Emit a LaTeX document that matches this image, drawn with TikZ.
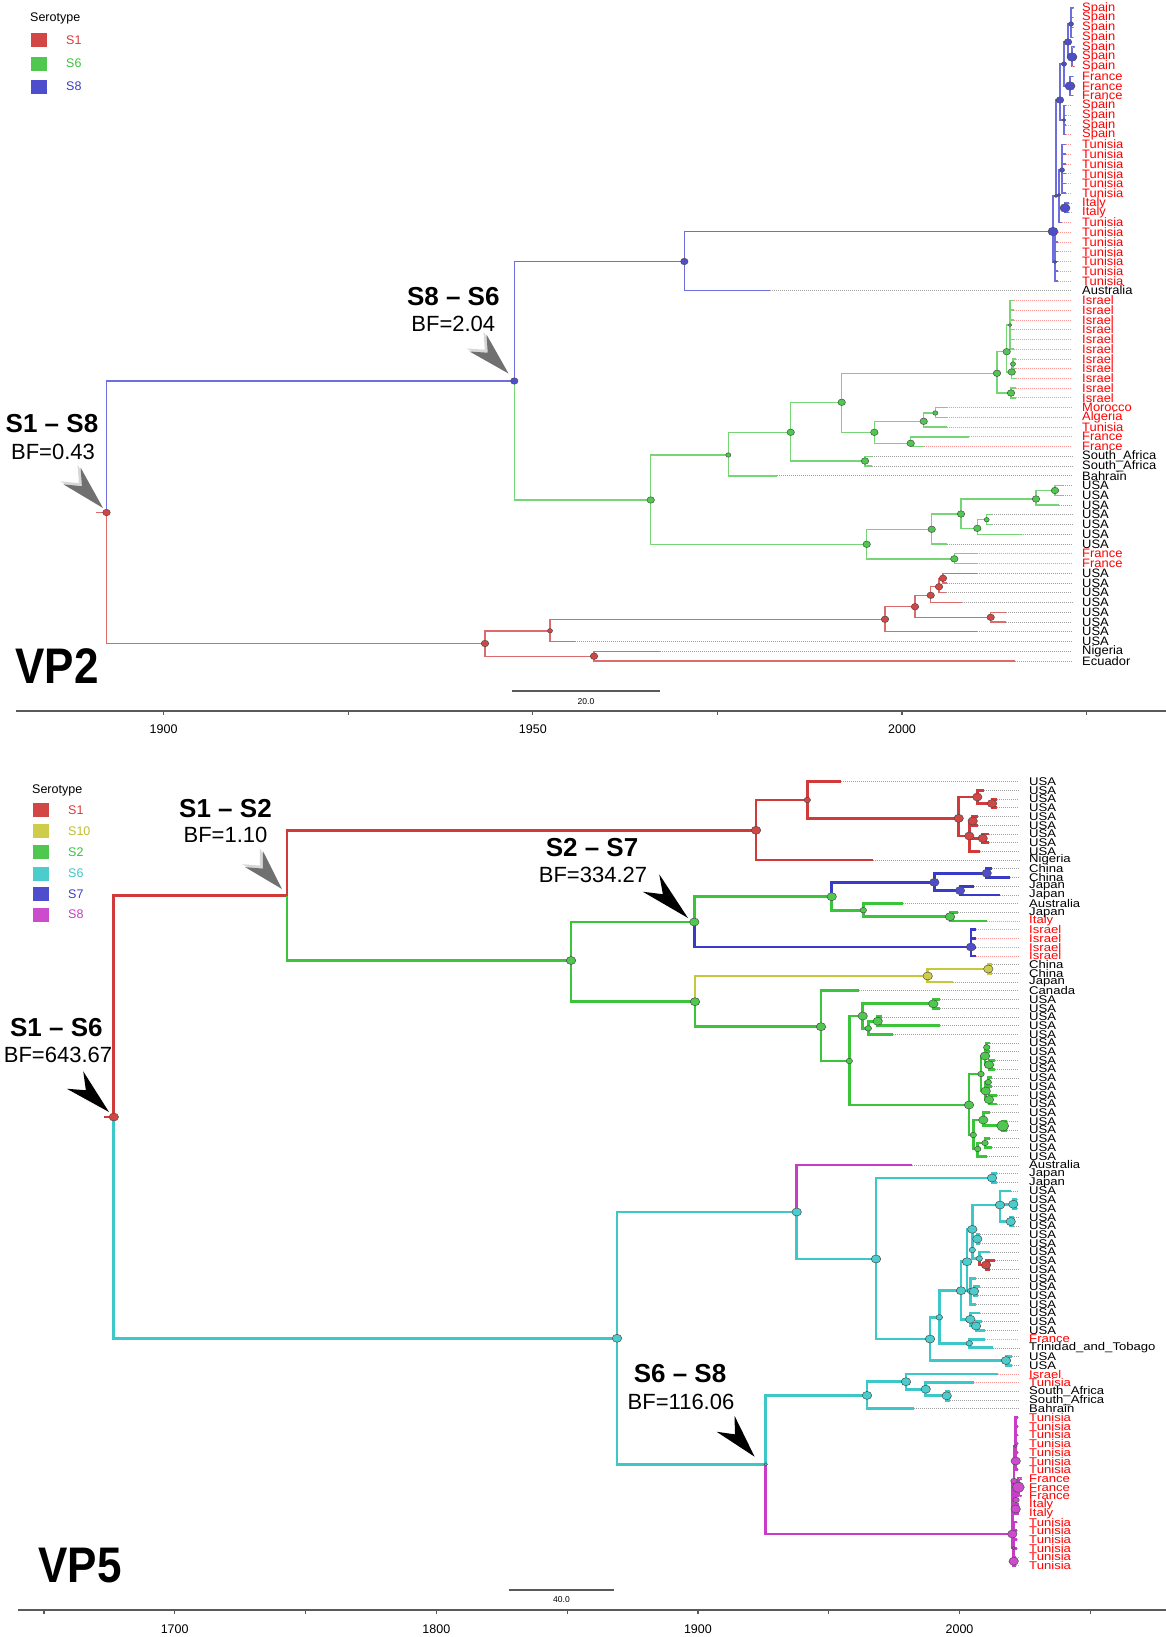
\documentclass[tikz,border=0pt]{standalone}
\usepackage{fontspec}
\setmainfont{Liberation Sans}
\usetikzlibrary{calc,shapes.geometric}
\definecolor{lnBt}{RGB}{110,110,220}
\definecolor{lnGt}{RGB}{118,214,118}
\definecolor{lnRt}{RGB}{220,108,108}
\definecolor{lnR}{RGB}{208,58,58}
\definecolor{lnG}{RGB}{58,196,58}
\definecolor{lnC}{RGB}{60,200,200}
\definecolor{lnB}{RGB}{58,58,200}
\definecolor{lnY}{RGB}{200,200,60}
\definecolor{lnM}{RGB}{200,60,200}
\definecolor{fiR}{RGB}{210,70,70}
\definecolor{fiG}{RGB}{80,200,80}
\definecolor{fiB}{RGB}{78,78,205}
\definecolor{fiC}{RGB}{75,205,205}
\definecolor{fiY}{RGB}{205,205,75}
\definecolor{fiM}{RGB}{205,75,205}
\definecolor{labred}{RGB}{255,0,0}
\definecolor{dotgray}{RGB}{160,160,160}
\definecolor{dotpink}{RGB}{250,150,150}
\definecolor{axisgray}{RGB}{90,90,90}
\definecolor{arrgray}{RGB}{112,112,112}
\definecolor{arrlight}{RGB}{215,215,215}
\definecolor{tS1}{RGB}{215,60,60}
\definecolor{tS6}{RGB}{60,195,60}
\definecolor{tS8}{RGB}{60,60,205}
\definecolor{tS10}{RGB}{190,190,50}
\definecolor{tCy}{RGB}{60,200,200}
\definecolor{tMa}{RGB}{200,60,200}

\newcommand\yT[1]{8+(#1-1)*9.746}
\newcommand\yB[1]{781.7+(#1-1)*8.71}
\newcommand\nd[5]{\coordinate (#1) at (#2,#3);\draw[#5] (#4) |- (#1);}
\newcommand\tT[6]{\coordinate (T#2) at (#3,{\yT{#2}});
 \node[labT,lab#6] (TL#2) at (1082,{\yT{#2}}) {#4};
 \draw[#5] (#1) |- (T#2);
 \draw[dotT#6] (T#2) -- (TL#2.west);}
\newcommand\tB[6]{\coordinate (B#2) at (#3,{\yB{#2}});
 \node[labB,lab#6] (BL#2) at (1029,{\yB{#2}}) {#4};
 \draw[#5] (#1) |- (B#2);
 \draw[dotB#6] (B#2) -- (BL#2.west);}
\newcommand\dt[3]{\node[#1,#3] (d#2) at (#2) {};}
\newcommand\pointer[3]{\fill[#1] (#3) -- ($(#2)!12pt!90:(#3)$) -- ($(#2)!0.32!(#3)$) -- ($(#2)!12pt!-90:(#3)$) -- cycle;}

\begin{document}
\begin{tikzpicture}[x=1pt,y=-1pt,
 bT/.style={draw=lnBt,line width=1.4pt},
 gT/.style={draw=lnGt,line width=1.4pt},
 rT/.style={draw=lnRt,line width=1.4pt},
 rB/.style={draw=lnR,line width=2.8pt},
 gB/.style={draw=lnG,line width=2.8pt},
 cB/.style={draw=lnC,line width=2.8pt},
 bB/.style={draw=lnB,line width=2.8pt},
 yB/.style={draw=lnY,line width=2.8pt},
 mB/.style={draw=lnM,line width=2.8pt},
 labT/.style={anchor=west,inner sep=0pt,font=\fontsize{12.2}{12}\selectfont,xscale=1.06},
 labB/.style={anchor=west,inner sep=0pt,font=\fontsize{11.2}{11}\selectfont,xscale=1.17},
 labr/.style={text=labred},
 labk/.style={text=black},
 dotTr/.style={draw=dotpink,line width=0.7pt,dash pattern=on 1pt off 1pt,shorten >=10pt},
 dotTk/.style={draw=dotgray,line width=0.7pt,dash pattern=on 1pt off 1pt,shorten >=10pt},
 dotBr/.style={draw=dotpink,line width=0.7pt,dash pattern=on 1pt off 1pt,shorten >=10pt},
 dotBk/.style={draw=dotgray,line width=0.7pt,dash pattern=on 1pt off 1pt,shorten >=10pt},
 ndot/.style={ellipse,draw=black!70,line width=0.5pt,inner sep=0pt},
 DR/.style={ndot,fill=fiR}, DG/.style={ndot,fill=fiG}, DB/.style={ndot,fill=fiB},
 DC/.style={ndot,fill=fiC}, DY/.style={ndot,fill=fiY}, DM/.style={ndot,fill=fiM},
 sX/.style={minimum width=3.5pt,minimum height=3pt},
 sT1/.style={minimum width=5pt,minimum height=4.5pt},
 sT2/.style={minimum width=7.5pt,minimum height=6.5pt},
 sT3/.style={minimum width=10pt,minimum height=8.5pt},
 sB1/.style={minimum width=6.5pt,minimum height=5.5pt},
 sB2/.style={minimum width=9.5pt,minimum height=8pt},
 sB3/.style={minimum width=12pt,minimum height=10pt},
 ann/.style={inner sep=0pt,font=\fontsize{26}{26}\selectfont\bfseries},
 bf/.style={inner sep=0pt,font=\fontsize{22}{22}\selectfont},
 vp/.style={inner sep=0pt,font=\fontsize{50}{50}\selectfont\bfseries,xscale=0.88},
 legh/.style={anchor=west,inner sep=0pt,font=\fontsize{12.5}{12}\selectfont},
 legl/.style={anchor=west,inner sep=0pt,font=\fontsize{12.5}{12}\selectfont},
 lsq/.style={minimum width=17pt,minimum height=15pt,inner sep=0pt,draw=white,line width=0.6pt},
 axisline/.style={draw=axisgray,line width=1.8pt},
 tickl/.style={inner sep=0pt,font=\fontsize{12.5}{12}\selectfont},
 sbar/.style={draw=axisgray,line width=1.8pt},
 sbl/.style={inner sep=0pt,font=\fontsize{8.5}{8}\selectfont}]
\useasboundingbox (0,0) rectangle (1166,1637);
\fill[white] (0,0) rectangle (1166,1637);

% ================= TOP TREE (VP2) =================
\coordinate (TR) at (106.5,512.5);
\coordinate (TRs) at (96,512.5);
\draw[rT] (TRs) -- (TR);
\nd{TS86}{514.3}{381}{TR}{bT}
\nd{TB1}{684.3}{261.5}{TS86}{bT}
\nd{TA}{1053}{231.5}{TB1}{bT}
\tT{TB1}{30}{770}{Australia}{bT}{k}
\nd{TU}{1056}{196}{TA}{bT}
\nd{TL}{1055}{262}{TA}{bT}
\nd{TS1}{1060}{100}{TU}{bT}
\nd{TS2}{1059}{195}{TU}{bT}
\nd{TSp}{1064}{64}{TS1}{bT}
\nd{TSq}{1064}{120}{TS1}{bT}
\nd{TSpain}{1068}{42}{TSp}{bT}
\nd{TFr}{1070}{86}{TSp}{bT}
\nd{TSa}{1071}{24}{TSpain}{bT}
\nd{TSb}{1072}{57}{TSpain}{bT}
\foreach \r in {1,...,4}{\tT{TSa}{\r}{1074}{Spain}{bT}{r}}
\foreach \r in {5,6,7}{\tT{TSb}{\r}{1075}{Spain}{bT}{r}}
\foreach \r in {8,9,10}{\tT{TFr}{\r}{1074}{France}{bT}{r}}
\foreach \r in {11,...,14}{\tT{TSq}{\r}{1066}{Spain}{bT}{r}}
\nd{TTun}{1062}{170}{TS2}{bT}
\nd{TIt}{1065}{208}{TS2}{bT}
\foreach \r in {15,...,20}{\tT{TTun}{\r}{1066}{Tunisia}{bT}{r}}
\foreach \r in {21,22}{\tT{TIt}{\r}{1069}{Italy}{bT}{r}}
\tT{TS2}{23}{1062}{Tunisia}{bT}{r}
\foreach \r in {24,...,29}{\tT{TL}{\r}{1058}{Tunisia}{bT}{r}}
% green
\nd{TG0}{650.7}{500}{TS86}{gT}
\nd{TG1}{728.3}{455}{TG0}{gT}
\nd{TG2}{866.7}{544.3}{TG0}{gT}
\nd{TG3}{790.7}{432.3}{TG1}{gT}
\tT{TG1}{49}{776.7}{Bahrain}{gT}{k}
\nd{TG4}{841.7}{402.3}{TG3}{gT}
\nd{TG5}{865}{461}{TG3}{gT}
\tT{TG5}{47}{871.7}{South\_Africa}{gT}{k}
\tT{TG5}{48}{871.7}{South\_Africa}{gT}{k}
\nd{TG6}{997}{373.3}{TG4}{gT}
\nd{TG7}{874.3}{432.3}{TG4}{gT}
\nd{TG8}{923.7}{421.3}{TG7}{gT}
\nd{TG9}{910.7}{443.3}{TG7}{gT}
\tT{TG9}{45}{969.3}{France}{gT}{r}
\tT{TG9}{46}{924}{France}{gT}{r}
\nd{TG10}{935.3}{413}{TG8}{gT}
\tT{TG10}{42}{946.7}{Morocco}{gT}{r}
\tT{TG10}{43}{946.7}{Algeria}{gT}{r}
\tT{TG8}{44}{946.7}{Tunisia}{gT}{r}
\nd{TG11}{1006.7}{351.7}{TG6}{gT}
\nd{TG12}{1011}{393}{TG6}{gT}
\foreach \r in {40,41}{\tT{TG12}{\r}{1016}{Israel}{gT}{r}}
\nd{TG13}{1011.7}{372}{TG11}{gT}
\nd{TG15}{1013}{364}{TG13}{gT}
\foreach \r in {37,38}{\tT{TG15}{\r}{1016}{Israel}{gT}{r}}
\tT{TG13}{39}{1016}{Israel}{gT}{r}
\nd{TG14}{1010}{325}{TG11}{gT}
\foreach \r in {31,...,36}{\tT{TG14}{\r}{1014}{Israel}{gT}{r}}
\nd{TGa}{931.7}{529.3}{TG2}{gT}
\nd{TGb}{954.3}{558.8}{TG2}{gT}
\foreach \r in {57,58}{\tT{TGb}{\r}{976.7}{France}{gT}{r}}
\nd{TGc}{961}{514}{TGa}{gT}
\tT{TGa}{56}{946.7}{USA}{gT}{k}
\nd{TGd}{1036}{499}{TGc}{gT}
\nd{TGe}{977.3}{528.3}{TGc}{gT}
\nd{TGf}{1055}{490.5}{TGd}{gT}
\foreach \r in {50,51}{\tT{TGf}{\r}{1063}{USA}{gT}{k}}
\tT{TGd}{52}{1059.3}{USA}{gT}{k}
\nd{TGg}{986.7}{519.7}{TGe}{gT}
\foreach \r in {53,54}{\tT{TGg}{\r}{991.7}{USA}{gT}{k}}
\tT{TGe}{55}{1020.7}{USA}{gT}{k}
% red
\nd{TR0}{485}{643.5}{TR}{rT}
\nd{TR3}{550}{630.8}{TR0}{rT}
\nd{TR2}{594}{656.2}{TR0}{rT}
\tT{TR2}{67}{660}{Nigeria}{rT}{k}
\tT{TR2}{68}{1015}{Ecuador}{rT}{k}
\nd{TR1}{885}{619.3}{TR3}{rT}
\tT{TR3}{66}{575}{USA}{rT}{k}
\nd{TR4}{915}{606.7}{TR1}{rT}
\tT{TR1}{65}{976.7}{USA}{rT}{k}
\nd{TR6}{930.7}{595.3}{TR4}{rT}
\nd{TR5}{990.7}{617.3}{TR4}{rT}
\foreach \r in {63,64}{\tT{TR5}{\r}{1006}{USA}{rT}{k}}
\nd{TR7}{939}{586.7}{TR6}{rT}
\tT{TR6}{62}{961.7}{USA}{rT}{k}
\nd{TR8}{943}{578.3}{TR7}{rT}
\tT{TR7}{61}{946}{USA}{rT}{k}
\tT{TR8}{59}{976.7}{USA}{rT}{k}
\tT{TR8}{60}{946.7}{USA}{rT}{k}
% dots top
\dt{DR}{TR}{sT2}
\dt{DB}{TS86}{sT2}\dt{DB}{TB1}{sT2}\dt{DB}{TA}{sT3}\dt{DB}{TU}{sX}
\dt{DB}{TS1}{sT2}\dt{DB}{TSp}{sT1}\dt{DB}{TSpain}{sT2}\dt{DB}{TSa}{sT1}
\dt{DB}{TSb}{sT3}\dt{DB}{TFr}{sT3}\dt{DB}{TSq}{sX}\dt{DB}{TS2}{sX}
\dt{DB}{TTun}{sT1}\dt{DB}{TIt}{sT3}\dt{DB}{TL}{sX}
\dt{DG}{TG0}{sT2}\dt{DG}{TG1}{sT1}\dt{DG}{TG2}{sT2}\dt{DG}{TG3}{sT2}
\dt{DG}{TG4}{sT2}\dt{DG}{TG5}{sT2}\dt{DG}{TG6}{sT2}\dt{DG}{TG7}{sT2}
\dt{DG}{TG8}{sT2}\dt{DG}{TG9}{sT2}\dt{DG}{TG10}{sT1}\dt{DG}{TG11}{sT2}
\dt{DG}{TG12}{sT2}\dt{DG}{TG13}{sT2}\dt{DG}{TG15}{sT1}\dt{DG}{TG14}{sX}
\dt{DG}{TGa}{sT2}\dt{DG}{TGb}{sT2}\dt{DG}{TGc}{sT2}\dt{DG}{TGd}{sT2}
\dt{DG}{TGe}{sT2}\dt{DG}{TGf}{sT2}\dt{DG}{TGg}{sT1}
\dt{DR}{TR0}{sT2}\dt{DR}{TR3}{sT1}\dt{DR}{TR2}{sT2}\dt{DR}{TR1}{sT2}
\dt{DR}{TR4}{sT2}\dt{DR}{TR6}{sT2}\dt{DR}{TR7}{sT2}\dt{DR}{TR8}{sT2}\dt{DR}{TR5}{sT2}

% annotations top
\node[ann] (aS18) at (52,424) {S1 -- S8};
\node[bf] (bS18) at (53,452) {BF=0.43};
\coordinate (p1t) at (72,476); \coordinate (p1h) at (103,508);
\coordinate (p1ts) at (69,473); \coordinate (p1hs) at (100,505);
\pointer{arrlight}{p1ts}{p1hs}
\pointer{arrgray}{p1t}{p1h}
\node[ann] (aS86) at (453.3,297) {S8 -- S6};
\node[bf] (bS86) at (453.3,324) {BF=2.04};
\coordinate (p2t) at (478,343); \coordinate (p2h) at (508.5,373.5);
\coordinate (p2ts) at (475,340); \coordinate (p2hs) at (505.5,370.5);
\pointer{arrlight}{p2ts}{p2hs}
\pointer{arrgray}{p2t}{p2h}
\node[vp] (vp2) at (57,666) {VP2};

% legend top
\node[legh] (lgT) at (30,18) {Serotype};
\node[lsq,fill=fiR] (lqT1) at (39,40) {};
\node[lsq,fill=fiG] (lqT2) at (39,63.5) {};
\node[lsq,fill=fiB] (lqT3) at (39,86.5) {};
\node[legl,text=tS1] (llT1) at (66,40) {S1};
\node[legl,text=tS6] (llT2) at (66,63.5) {S6};
\node[legl,text=tS8] (llT3) at (66,86.5) {S8};

% axis top
\coordinate (axTs) at (16,711); \coordinate (axTe) at (1166,711);
\draw[axisline] (axTs) -- (axTe);
\foreach \k in {0,...,5}{\draw[axisline,line width=1.2pt] ({163.6+\k*184.6},711) -- ++(0,4);}
\node[tickl] (yT1900) at (163.6,729) {1900};
\node[tickl] (yT1950) at (532.8,729) {1950};
\node[tickl] (yT2000) at (902,729) {2000};
\coordinate (sbTs) at (512,691); \coordinate (sbTe) at (660,691);
\draw[sbar] (sbTs) -- (sbTe);
\node[sbl] (sbTl) at (586,702) {20.0};

% ================= BOTTOM TREE (VP5) =================
\coordinate (BR) at (113.8,1117);
\coordinate (BRs) at (104,1117);
\draw[rB] (BRs) -- (BR);
\nd{X1}{287}{895.7}{BR}{rB}
\nd{BC0}{617}{1338.3}{BR}{cB}
\nd{BR0}{756}{830.3}{X1}{rB}
\nd{BG0}{571}{960.5}{X1}{gB}
% red
\nd{BR1}{807.3}{800}{BR0}{rB}
\tB{BR0}{10}{872.7}{Nigeria}{rB}{k}
\tB{BR1}{1}{841.3}{USA}{rB}{k}
\nd{BR2}{958.7}{818.3}{BR1}{rB}
\nd{BR3}{977.3}{797}{BR2}{rB}
\nd{BR4}{969.3}{836}{BR2}{rB}
\tB{BR3}{2}{984}{USA}{rB}{k}
\nd{BR5}{992}{803.5}{BR3}{rB}
\foreach \r in {3,4}{\tB{BR5}{\r}{997}{USA}{rB}{k}}
\nd{BR6}{972.7}{821}{BR4}{rB}
\nd{BR8}{982.7}{838.3}{BR4}{rB}
\foreach \r in {5,6}{\tB{BR6}{\r}{978}{USA}{rB}{k}}
\foreach \r in {7,8}{\tB{BR8}{\r}{989}{USA}{rB}{k}}
\tB{BR4}{9}{980}{USA}{rB}{k}
% green / blue
\nd{S27}{694.3}{922}{BG0}{gB}
\nd{BG1}{695}{1001.7}{BG0}{gB}
\nd{BG2}{831.7}{896.7}{S27}{gB}
\nd{Bb4}{971}{947}{S27}{bB}
\foreach \r in {18,...,21}{\tB{Bb4}{\r}{976}{Israel}{bB}{r}}
\nd{Bb1}{934.3}{882.3}{BG2}{bB}
\nd{BG3}{863.3}{910.2}{BG2}{gB}
\nd{Bb2}{986.7}{873.2}{Bb1}{bB}
\nd{Bb3}{960}{890.6}{Bb1}{bB}
\tB{Bb2}{11}{992}{China}{bB}{k}
\tB{Bb2}{12}{1010}{China}{bB}{k}
\tB{Bb3}{13}{974}{Japan}{bB}{k}
\tB{Bb3}{14}{1000}{Japan}{bB}{k}
\tB{BG3}{15}{903.3}{Australia}{gB}{k}
\nd{BG4}{950}{916.7}{BG3}{gB}
\tB{BG4}{16}{958.3}{Japan}{gB}{k}
\tB{BG4}{17}{986.7}{Italy}{gB}{r}
% yellow / green
\nd{Y0}{927.7}{976}{BG1}{yB}
\nd{BG5}{821}{1026.7}{BG1}{gB}
\nd{Y1}{988.3}{969}{Y0}{yB}
\foreach \r in {22,23}{\tB{Y1}{\r}{992}{China}{yB}{k}}
\tB{Y0}{24}{953.3}{Japan}{yB}{k}
\tB{BG5}{25}{859.3}{Canada}{gB}{k}
\nd{BG6}{849.3}{1061}{BG5}{gB}
\nd{BG7}{862.7}{1016}{BG6}{gB}
\nd{BG8}{969}{1105}{BG6}{gB}
\nd{BG9}{933.3}{1003.8}{BG7}{gB}
\foreach \r in {26,27}{\tB{BG9}{\r}{940}{USA}{gB}{k}}
\nd{BG10}{868.3}{1028.3}{BG7}{gB}
\nd{BG11}{877.7}{1021.2}{BG10}{gB}
\tB{BG11}{28}{882}{USA}{gB}{k}
\tB{BG11}{29}{940}{USA}{gB}{k}
\tB{BG10}{30}{893.3}{USA}{gB}{k}
\nd{BG12}{981}{1074}{BG8}{gB}
\nd{BG13}{973.3}{1135}{BG8}{gB}
\nd{BG14}{985}{1056}{BG12}{gB}
\nd{BG15}{985.7}{1091}{BG12}{gB}
\nd{BG14a}{986.7}{1047.4}{BG14}{gB}
\nd{BG14b}{989}{1064.7}{BG14}{gB}
\foreach \r in {31,32}{\tB{BG14a}{\r}{990}{USA}{gB}{k}}
\foreach \r in {33,34}{\tB{BG14b}{\r}{995}{USA}{gB}{k}}
\nd{BG15a}{988.3}{1082.2}{BG15}{gB}
\nd{BG15b}{989}{1099.6}{BG15}{gB}
\foreach \r in {35,36}{\tB{BG15a}{\r}{992}{USA}{gB}{k}}
\foreach \r in {37,38}{\tB{BG15b}{\r}{997}{USA}{gB}{k}}
\nd{BG16}{983.3}{1120}{BG13}{gB}
\nd{BG17}{977.7}{1149}{BG13}{gB}
\tB{BG16}{39}{990}{USA}{gB}{k}
\nd{BG16b}{1002.7}{1125.8}{BG16}{gB}
\foreach \r in {40,41}{\tB{BG16b}{\r}{1007}{USA}{gB}{k}}
\nd{BG17a}{985}{1143}{BG17}{gB}
\tB{BG17a}{42}{990}{USA}{gB}{k}
\tB{BG17a}{43}{992}{USA}{gB}{k}
\tB{BG17}{44}{987}{USA}{gB}{k}
% cyan
\nd{BC1}{796.7}{1212}{BC0}{cB}
\nd{S68}{765.8}{1464.3}{BC0}{cB}
\tB{BC1}{45}{911.7}{Australia}{mB}{k}
\nd{BC2}{876}{1259}{BC1}{cB}
\nd{BC3}{992}{1178}{BC2}{cB}
\foreach \r in {46,47}{\tB{BC3}{\r}{997}{Japan}{cB}{k}}
\nd{BC4}{930}{1339}{BC2}{cB}
\nd{BC6}{939.3}{1317.3}{BC4}{cB}
\nd{BC5}{1006}{1360.5}{BC4}{cB}
\foreach \r in {67,68}{\tB{BC5}{\r}{1012}{USA}{cB}{k}}
\nd{BC7}{961}{1290.7}{BC6}{cB}
\nd{BC8}{969.3}{1343.3}{BC6}{cB}
\tB{BC8}{65}{985}{France}{cB}{r}
\tB{BC8}{66}{992.7}{Trinidad\_and\_Tobago}{cB}{k}
\nd{BC10}{967}{1261.7}{BC7}{cB}
\nd{BC11}{970.3}{1319.3}{BC7}{cB}
\tB{BC11}{62}{980}{USA}{cB}{k}
\nd{BC11a}{976}{1326}{BC11}{cB}
\tB{BC11a}{63}{982}{USA}{cB}{k}
\tB{BC11a}{64}{985}{USA}{cB}{k}
\nd{BC12}{972.3}{1229.3}{BC10}{cB}
\nd{BC13}{970.5}{1291}{BC10}{cB}
\tB{BC13}{58}{976}{USA}{cB}{k}
\nd{BC13a}{974}{1291.3}{BC13}{cB}
\tB{BC13a}{59}{980}{USA}{cB}{k}
\tB{BC13a}{60}{978}{USA}{cB}{k}
\tB{BC13}{61}{976}{USA}{cB}{k}
\nd{BC14}{1000}{1205}{BC12}{cB}
\nd{BC15}{972.3}{1250}{BC12}{cB}
\tB{BC14}{48}{1011}{USA}{cB}{k}
\nd{BC14a}{1013.3}{1204.2}{BC14}{cB}
\foreach \r in {49,50}{\tB{BC14a}{\r}{1017}{USA}{cB}{k}}
\nd{BC14b}{1010.7}{1221.5}{BC14}{cB}
\foreach \r in {51,52}{\tB{BC14b}{\r}{1014}{USA}{cB}{k}}
\nd{BC15a}{977.3}{1239}{BC15}{cB}
\foreach \r in {53,54}{\tB{BC15a}{\r}{980}{USA}{cB}{k}}
\nd{BC15b}{979.3}{1258.5}{BC15}{cB}
\tB{BC15b}{55}{990}{USA}{cB}{k}
\nd{BCr}{986}{1265}{BC15b}{rB}
\tB{BCr}{56}{995}{USA}{rB}{k}
\tB{BCr}{57}{990}{USA}{rB}{k}
\nd{BC20}{867}{1395.4}{S68}{cB}
\nd{M0}{1012.3}{1534}{S68}{mB}
\nd{BC21}{906}{1381.7}{BC20}{cB}
\tB{BC20}{73}{914.3}{Bahrain}{cB}{k}
\tB{BC21}{69}{998.3}{Israel}{cB}{r}
\nd{BC22}{925.7}{1389.2}{BC21}{cB}
\tB{BC22}{70}{974.3}{Tunisia}{cB}{r}
\nd{BC23}{946.7}{1395.8}{BC22}{cB}
\foreach \r in {71,72}{\tB{BC23}{\r}{950}{South\_Africa}{cB}{k}}
% magenta
\nd{M1}{1014}{1481}{M0}{mB}
\nd{M2}{1013.5}{1548}{M0}{mB}
\nd{M3}{1015.5}{1446}{M1}{mB}
\nd{M4}{1016}{1500}{M1}{mB}
\foreach \r in {74,...,77}{\tB{M3}{\r}{1018}{Tunisia}{mB}{r}}
\nd{M3a}{1015.7}{1461}{M3}{mB}
\foreach \r in {78,79,80}{\tB{M3a}{\r}{1018}{Tunisia}{mB}{r}}
\nd{M4a}{1018.3}{1487.2}{M4}{mB}
\foreach \r in {81,82,83}{\tB{M4a}{\r}{1022}{France}{mB}{r}}
\nd{M4b}{1015.7}{1509}{M4}{mB}
\foreach \r in {84,85}{\tB{M4b}{\r}{1019}{Italy}{mB}{r}}
\foreach \r in {86,...,89}{\tB{M2}{\r}{1017}{Tunisia}{mB}{r}}
\nd{M2a}{1013.7}{1561.2}{M2}{mB}
\foreach \r in {90,91}{\tB{M2a}{\r}{1016}{Tunisia}{mB}{r}}
% dots bottom
\dt{DR}{BR}{sB2}\dt{DR}{BR0}{sB2}\dt{DR}{BR1}{sB1}\dt{DR}{BR2}{sB2}
\dt{DR}{BR3}{sB2}\dt{DR}{BR4}{sB2}\dt{DR}{BR5}{sB2}\dt{DR}{BR6}{sB2}\dt{DR}{BR8}{sB2}
\dt{DG}{BG0}{sB2}\dt{DG}{S27}{sB2}\dt{DG}{BG1}{sB2}\dt{DG}{BG2}{sB2}
\dt{DG}{BG3}{sB1}\dt{DG}{BG4}{sB2}\dt{DG}{BG5}{sB2}\dt{DG}{BG6}{sB1}
\dt{DG}{BG7}{sB2}\dt{DG}{BG9}{sB2}\dt{DG}{BG10}{sB1}\dt{DG}{BG11}{sB2}
\dt{DG}{BG8}{sB2}\dt{DG}{BG12}{sB1}\dt{DG}{BG14}{sB2}\dt{DG}{BG14a}{sB1}
\dt{DG}{BG14b}{sB2}\dt{DG}{BG15}{sB2}\dt{DG}{BG15a}{sB1}\dt{DG}{BG15b}{sB2}
\dt{DG}{BG13}{sB1}\dt{DG}{BG16}{sB2}\dt{DG}{BG16b}{sB3}\dt{DG}{BG17}{sB1}\dt{DG}{BG17a}{sB1}
\dt{DB}{Bb1}{sB2}\dt{DB}{Bb2}{sB2}\dt{DB}{Bb3}{sB2}\dt{DB}{Bb4}{sB2}
\dt{DY}{Y0}{sB2}\dt{DY}{Y1}{sB2}
\dt{DC}{BC0}{sB2}\dt{DC}{BC1}{sB2}\dt{DC}{BC2}{sB2}\dt{DC}{BC3}{sB2}
\dt{DC}{BC4}{sB2}\dt{DC}{BC5}{sB2}\dt{DC}{BC6}{sB1}\dt{DC}{BC7}{sB2}
\dt{DC}{BC8}{sB1}\dt{DC}{BC10}{sB2}\dt{DC}{BC11}{sB2}\dt{DC}{BC11a}{sB2}
\dt{DC}{BC12}{sB2}\dt{DC}{BC13}{sB1}\dt{DC}{BC13a}{sB2}\dt{DC}{BC14}{sB2}
\dt{DC}{BC14a}{sB2}\dt{DC}{BC14b}{sB2}\dt{DC}{BC15}{sB1}\dt{DC}{BC15a}{sB2}
\dt{DC}{BC15b}{sB1}\dt{DR}{BCr}{sB2}\dt{DC}{S68}{sX}\dt{DC}{BC20}{sB2}
\dt{DC}{BC21}{sB2}\dt{DC}{BC22}{sB2}\dt{DC}{BC23}{sB2}
\dt{DM}{M0}{sB2}\dt{DM}{M1}{sB1}\dt{DM}{M2}{sX}\dt{DM}{M2a}{sB2}
\dt{DM}{M3}{sX}\dt{DM}{M3a}{sB2}\dt{DM}{M4}{sB1}\dt{DM}{M4a}{sB3}\dt{DM}{M4b}{sB2}

% annotations bottom
\node[ann] (aS12) at (225.5,808.5) {S1 -- S2};
\node[bf] (bS12) at (225.5,835) {BF=1.10};
\coordinate (p3t) at (254,859); \coordinate (p3h) at (282,889);
\coordinate (p3ts) at (251,856); \coordinate (p3hs) at (279,886);
\pointer{arrlight}{p3ts}{p3hs}
\pointer{arrgray}{p3t}{p3h}
\node[ann] (aS27) at (592,848) {S2 -- S7};
\node[bf] (bS27) at (593,875) {BF=334.27};
\coordinate (p4t) at (651,883); \coordinate (p4h) at (688,918);
\pointer{black}{p4t}{p4h}
\node[ann] (aS16) at (56.4,1028) {S1 -- S6};
\node[bf] (bS16) at (58,1054.5) {BF=643.67};
\coordinate (p5t) at (75,1080); \coordinate (p5h) at (109,1112);
\pointer{black}{p5t}{p5h}
\node[ann] (aS68) at (680,1374) {S6 -- S8};
\node[bf] (bS68) at (681,1401.7) {BF=116.06};
\coordinate (p6t) at (725.6,1423.8); \coordinate (p6h) at (754.6,1456.7);
\pointer{black}{p6t}{p6h}
\node[vp] (vp5) at (80,1566) {VP5};

% legend bottom
\node[legh] (lgB) at (32,790) {Serotype};
\node[lsq,fill=fiR] (lqB1) at (40.5,810) {};
\node[lsq,fill=fiY] (lqB2) at (40.5,831) {};
\node[lsq,fill=fiG] (lqB3) at (40.5,852) {};
\node[lsq,fill=fiC] (lqB4) at (40.5,873.5) {};
\node[lsq,fill=fiB] (lqB5) at (40.5,894) {};
\node[lsq,fill=fiM] (lqB6) at (40.5,914.5) {};
\node[legl,text=tS1] (llB1) at (68,810) {S1};
\node[legl,text=tS10] (llB2) at (68,831) {S10};
\node[legl,text=tS6] (llB3) at (68,852) {S2};
\node[legl,text=tCy] (llB4) at (68,873.5) {S6};
\node[legl,text=tS8] (llB5) at (68,894) {S7};
\node[legl,text=tMa] (llB6) at (68,914.5) {S8};

% axis bottom
\coordinate (axBs) at (18,1610); \coordinate (axBe) at (1166,1610);
\draw[axisline] (axBs) -- (axBe);
\foreach \k in {0,...,8}{\draw[axisline,line width=1.2pt] ({43.9+\k*130.8},1610) -- ++(0,4);}
\node[tickl] (yB1700) at (174.7,1629) {1700};
\node[tickl] (yB1800) at (436.3,1629) {1800};
\node[tickl] (yB1900) at (697.9,1629) {1900};
\node[tickl] (yB2000) at (959.5,1629) {2000};
\coordinate (sbBs) at (509,1590); \coordinate (sbBe) at (614,1590);
\draw[sbar] (sbBs) -- (sbBe);
\node[sbl] (sbBl) at (561.5,1600) {40.0};
\end{tikzpicture}
\end{document}
